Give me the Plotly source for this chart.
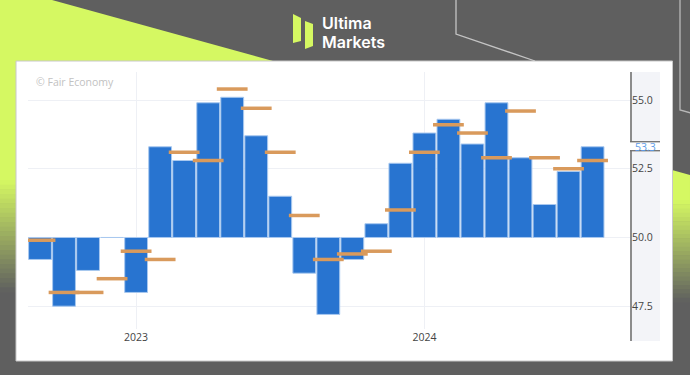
import plotly.graph_objects as go

# ---------------- data ----------------
months = ["2022-09", "2022-10", "2022-11", "2022-12",
          "2023-01", "2023-02", "2023-03", "2023-04", "2023-05", "2023-06",
          "2023-07", "2023-08", "2023-09", "2023-10", "2023-11", "2023-12",
          "2024-01", "2024-02", "2024-03", "2024-04", "2024-05", "2024-06",
          "2024-07", "2024-08"]
actual = [49.2, 47.5, 48.8, 50.0,
          48.0, 53.3, 52.8, 54.9, 55.1, 53.7,
          51.5, 48.7, 47.2, 49.2, 50.5, 52.7,
          53.8, 54.3, 53.4, 54.9, 52.9, 51.2,
          52.4, 53.3]
forecast = [49.9, 48.0, 48.0, 48.5,
            49.5, 49.2, 53.1, 52.8, 55.4, 54.7,
            53.1, 50.8, 49.2, 49.4, 49.5, 51.0,
            53.1, 54.1, 53.8, 52.9, 54.6, 52.9,
            52.5, 52.8]
baseline = 50.0
x_tick_vals = ["2023-01", "2024-01"]
x_tick_text = ["2023", "2024"]
y_tick_vals = [47.5, 50.0, 52.5, 55.0]

# ---------------- layout geometry ----------------
W, H = 690, 375
L, R, T, B = 28, 59, 72, 46
PW, PH = W - L - R, H - T - B


def px(x):
    return (x - L) / PW


def py(y):
    return (H - B - y) / PH


GRAY = "#5f5f5f"
LIME = (213, 248, 98)
GRAYRGB = (95, 95, 95)


def mix(t):
    c = [round(LIME[i] + (GRAYRGB[i] - LIME[i]) * t) for i in range(3)]
    return "rgb(%d,%d,%d)" % tuple(c)


def path(points):
    s = "M %f,%f " % (px(points[0][0]), py(points[0][1]))
    for p in points[1:]:
        s += "L %f,%f " % (px(p[0]), py(p[1]))
    return s + "Z"


shapes = []
# lime decoration top-left + left strip
shapes.append(dict(type="path", xref="paper", yref="paper", layer="below",
                   path=path([(0, 0), (52, 0), (273, 61), (16, 61), (16, 182), (0, 182)]),
                   fillcolor=mix(0), line=dict(width=0)))
# left gradient
steps = 24
y0g, y1g = 180, 292
for i in range(steps):
    a = y0g + (y1g - y0g) * i / steps
    b = y0g + (y1g - y0g) * (i + 1) / steps + 0.6
    shapes.append(dict(type="rect", xref="paper", yref="paper", layer="below",
                       x0=px(0), x1=px(16), y0=py(a), y1=py(b),
                       fillcolor=mix((i + 0.5) / steps), line=dict(width=0)))
# right lime strip
shapes.append(dict(type="path", xref="paper", yref="paper", layer="below",
                   path=path([(672, 170), (690, 175), (690, 202), (672, 202)]),
                   fillcolor=mix(0), line=dict(width=0)))
y0g, y1g = 200, 302
for i in range(steps):
    a = y0g + (y1g - y0g) * i / steps
    b = y0g + (y1g - y0g) * (i + 1) / steps + 0.6
    shapes.append(dict(type="rect", xref="paper", yref="paper", layer="below",
                       x0=px(672), x1=px(690), y0=py(a), y1=py(b),
                       fillcolor=mix((i + 0.5) / steps), line=dict(width=0)))
# decorative thin lines
shapes.append(dict(type="path", xref="paper", yref="paper", layer="below",
                   path="M %f,%f L %f,%f L %f,%f" % (px(456), py(0), px(456), py(34), px(535), py(61)),
                   line=dict(color="#c4c4c4", width=1.3)))
shapes.append(dict(type="path", xref="paper", yref="paper", layer="below",
                   path="M %f,%f L %f,%f L %f,%f" % (px(680), py(0), px(680), py(110), px(691), py(113)),
                   line=dict(color="#b8b8b8", width=1.3)))
# white panel
shapes.append(dict(type="rect", xref="paper", yref="paper", layer="below",
                   x0=px(16), x1=px(672.5), y0=py(361), y1=py(61),
                   fillcolor="white", line=dict(color="#c8c8c8", width=1)))
# right axis band
shapes.append(dict(type="rect", xref="paper", yref="paper", layer="below",
                   x0=px(631), x1=px(660), y0=py(341), y1=py(72),
                   fillcolor="#f3f4f8", line=dict(width=0)))
# right axis line
shapes.append(dict(type="line", xref="paper", yref="paper", layer="above",
                   x0=px(631), x1=px(631), y0=py(341), y1=py(72),
                   line=dict(color="#8c8c8c", width=2)))
# current value box
shapes.append(dict(type="rect", xref="paper", yref="y", layer="above",
                   x0=px(630), x1=px(660),
                   y0=actual[-1] - 4.5 / 27.5 + 0.02, y1=actual[-1] + 4.5 / 27.5 + 0.02,
                   fillcolor="white", line=dict(width=0)))
for dy in (-4.5, 4.5):
    shapes.append(dict(type="line", xref="paper", yref="y", layer="above",
                       x0=px(630), x1=px(660),
                       y0=actual[-1] + dy / 27.5 + 0.02, y1=actual[-1] + dy / 27.5 + 0.02,
                       line=dict(color="#6e6e6e", width=1.3)))
# logo icon
shapes.append(dict(type="path", xref="paper", yref="paper", layer="above",
                   path=path([(293, 14), (301, 18), (301, 41), (293, 43)]),
                   fillcolor="#d5f862", line=dict(width=0)))
shapes.append(dict(type="path", xref="paper", yref="paper", layer="above",
                   path=path([(305, 21), (313, 24), (313, 46), (305, 49)]),
                   fillcolor="#d5f862", line=dict(width=0)))

annotations = [
    dict(text="Ultima", xref="paper", yref="paper", x=px(321), y=py(23),
         xanchor="left", yanchor="middle", showarrow=False, borderpad=0,
         font=dict(family="Inter", size=16, color="white", weight=600)),
    dict(text="Markets", xref="paper", yref="paper", x=px(321), y=py(42.5),
         xanchor="left", yanchor="middle", showarrow=False, borderpad=0,
         font=dict(family="Inter", size=16, color="white", weight=600)),
    dict(text="© Fair Economy", xref="paper", yref="paper", x=px(34), y=py(82),
         xanchor="left", yanchor="middle", showarrow=False,
         font=dict(family="Open Sans", size=10.5, color="#c2c2c2")),
    dict(text="%.1f" % actual[-1], xref="paper", yref="y", x=px(645.5), y=actual[-1],
         xanchor="center", yanchor="middle", showarrow=False, borderpad=0,
         font=dict(family="Open Sans", size=10.5, color="#5b9be8")),
]

fig = go.Figure()
fig.add_trace(go.Bar(
    x=months, y=[a - baseline for a in actual], base=baseline,
    marker=dict(color="#2874d0", line=dict(color="#a8c8ef", width=1)),
    hoverinfo="skip", showlegend=False))
fig.add_trace(go.Scatter(
    x=months, y=forecast, mode="markers",
    marker=dict(symbol="line-ew", size=22, line=dict(width=3.5, color="#d99a5c")),
    hoverinfo="skip", showlegend=False))

fig.update_layout(
    width=W, height=H,
    margin=dict(l=L, r=R, t=T, b=B, pad=0),
    paper_bgcolor=GRAY, plot_bgcolor="white",
    bargap=0.05,
    shapes=shapes, annotations=annotations,
    showlegend=False,
    xaxis=dict(type="category", range=[-0.5, 24.6], tickvals=x_tick_vals, ticktext=x_tick_text,
               showgrid=True, gridcolor="#eef0f5", gridwidth=1, zeroline=False, showline=False,
               ticks="", tickfont=dict(family="Open Sans", size=10.5, color="#444444")),
    yaxis=dict(side="right", range=[46.67, 56.02], tickvals=y_tick_vals, tickformat=".1f",
               showgrid=True, gridcolor="#eef0f5", gridwidth=1, zeroline=False, showline=False,
               ticks="", tickfont=dict(family="Open Sans", size=10.5, color="#444444")),
)

fig.write_html("out.html", config={"displayModeBar": False},
               post_script="document.body.style.margin='0px';document.body.style.overflow='hidden';")
